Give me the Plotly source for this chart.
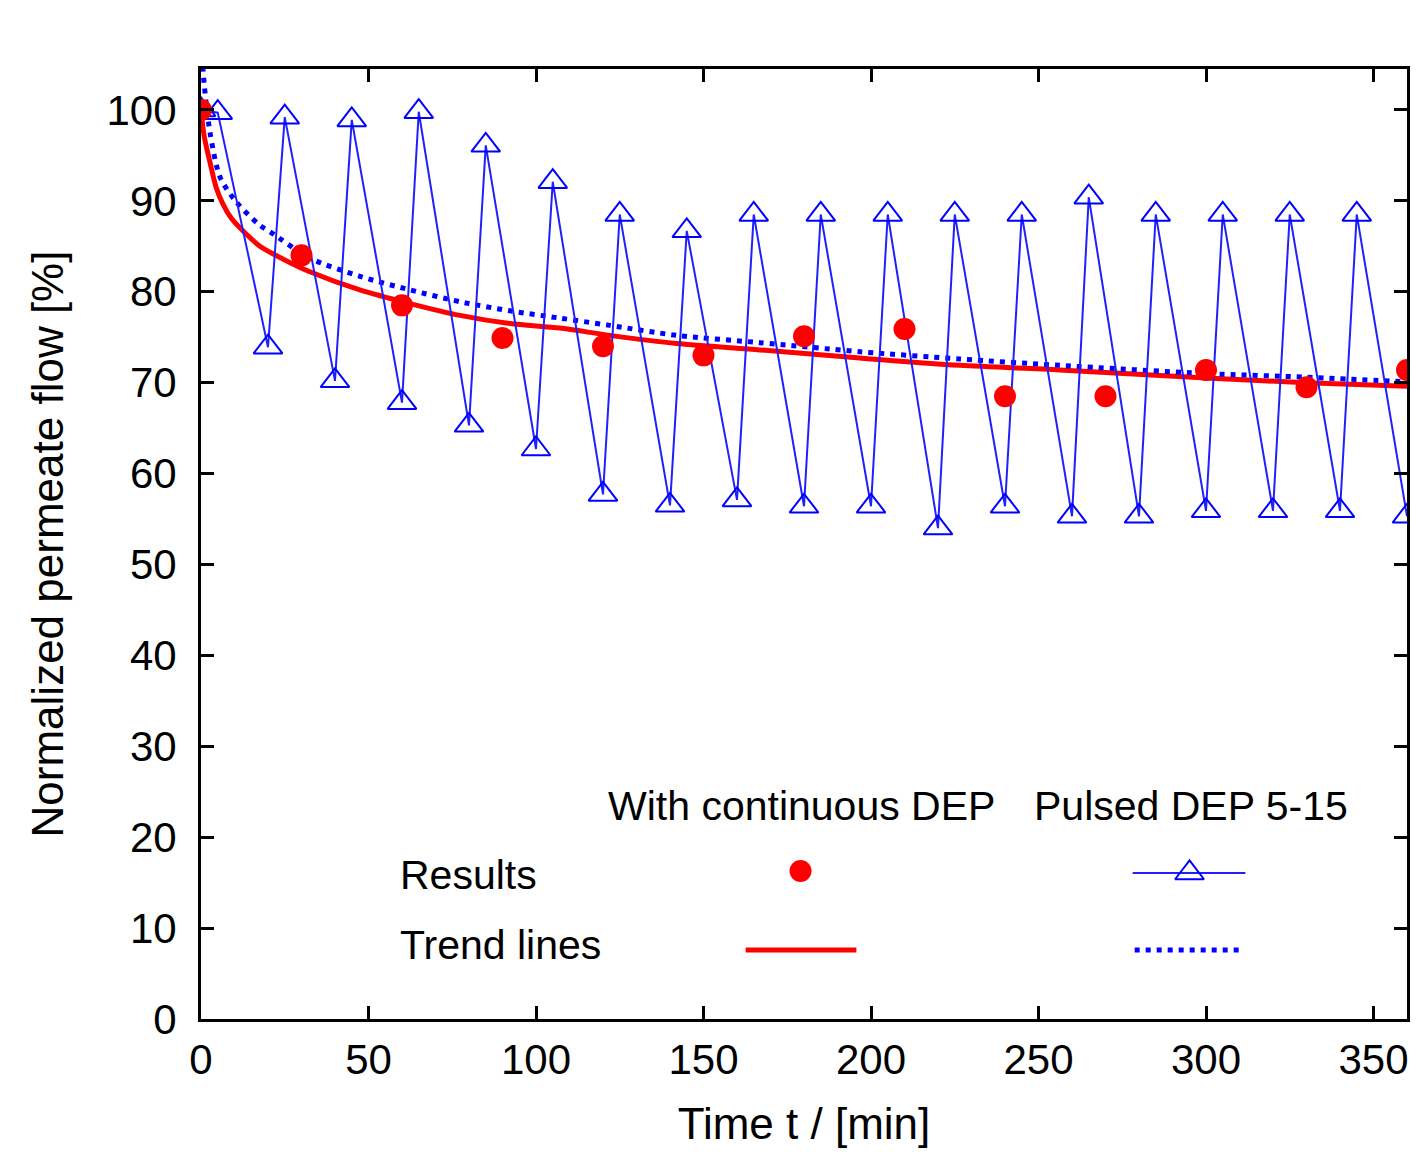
import plotly.graph_objects as go

# ---------------- data ----------------
results_t = [0, 30, 60, 90, 120, 150, 180, 210, 240, 270, 300, 330, 360]
results_flow = [100, 84.0, 78.5, 74.9, 74.0, 73.0, 75.1, 75.9, 68.5, 68.5, 71.4, 69.5, 71.4]

pulsed_t = [0, 5, 20, 25, 40, 45, 60, 65, 80, 85, 100, 105, 120, 125, 140, 145,
            160, 165, 180, 185, 200, 205, 220, 225, 240, 245, 260, 265, 280, 285,
            300, 305, 320, 325, 340, 345, 360]
pulsed_flow = [100, 99.7, 73.9, 99.2, 70.2, 98.9, 67.8, 99.8, 65.3, 96.1, 62.7, 92.1,
               57.7, 88.5, 56.5, 86.7, 57.1, 88.5, 56.4, 88.5, 56.4, 88.5, 54.0, 88.5,
               56.4, 88.5, 55.3, 90.4, 55.3, 88.5, 55.9, 88.5, 55.9, 88.5, 55.9, 88.5, 55.3]

trend_cont_t = [0, 1, 2.7, 4.5, 6.6, 9.0, 12.5, 17.6, 25, 32.5, 47.4, 62.4, 77.3, 92.2, 107.1,
                122, 142, 166.8, 196.7, 226.5, 256.3, 300, 330, 360]
trend_cont_flow = [100, 97.0, 94.2, 91.5, 89.6, 88.1, 86.7, 85.0, 83.5, 82.2, 80.2, 78.7, 77.4,
                   76.5, 76.0, 75.2, 74.3, 73.6, 72.7, 71.9, 71.4, 70.5, 70.0, 69.6]

trend_pulsed_t = [0, 0.6, 2.7, 5.7, 10.7, 17.6, 20.6, 32.5, 47.4, 62.4, 77.3, 92.2, 107.1,
                  122, 142, 166.8, 196.7, 226.5, 256.3, 300, 330, 360]
trend_pulsed_flow = [112, 104.4, 97.5, 92.6, 89.8, 87.3, 86.6, 83.7, 81.7, 80.2, 78.9, 77.9,
                     77.1, 76.3, 75.2, 74.4, 73.4, 72.6, 71.9, 71.0, 70.6, 70.1]

x_ticks = [0, 50, 100, 150, 200, 250, 300, 350]
y_ticks = [0, 10, 20, 30, 40, 50, 60, 70, 80, 90, 100]

legend_col_titles = ["With continuous DEP", "Pulsed DEP 5-15"]
legend_row_titles = ["Results", "Trend lines"]

# ---------------- styling ----------------
W, H = 1418, 1152
L, R, T, B = 201, 1410, 69, 1019  # plot area in pixels
FONT = "Liberation Sans, Arial, Helvetica, sans-serif"
FS_TICK = 42
FS_TITLE = 44
FS_LEG = 41
RED = "#ff0000"
BLUE = "#0000ff"
ZIG = "#2020ff"
DOT = "5px,6px"


def px(xp):
    return (xp - L) / (R - L)


def py(yp):
    return (B - yp) / (B - T)


fig = go.Figure()

fig.add_trace(go.Scatter(x=trend_cont_t, y=trend_cont_flow, mode="lines",
                         line=dict(color=RED, width=5, shape="spline", smoothing=0.8),
                         showlegend=False))
fig.add_trace(go.Scatter(x=trend_pulsed_t, y=trend_pulsed_flow, mode="lines",
                         line=dict(color=BLUE, width=5, dash=DOT, shape="spline", smoothing=0.8),
                         showlegend=False))
fig.add_trace(go.Scatter(x=pulsed_t, y=pulsed_flow, mode="lines+markers",
                         line=dict(color=ZIG, width=2),
                         marker=dict(symbol="triangle-up-open", size=25,
                                     color=BLUE, line=dict(width=2, color=BLUE)),
                         showlegend=False))
fig.add_trace(go.Scatter(x=results_t, y=results_flow, mode="markers",
                         marker=dict(symbol="circle", size=22, color=RED),
                         showlegend=False))

# legend sample markers drawn on a hidden overlay axis in paper-like units
fig.add_trace(go.Scatter(x=[px(802)], y=[py(871)], mode="markers", xaxis="x2", yaxis="y2",
                         marker=dict(symbol="circle", size=22, color=RED),
                         showlegend=False, hoverinfo="skip"))
fig.add_trace(go.Scatter(x=[px(1135), px(1248)], y=[py(873), py(873)], mode="lines",
                         xaxis="x2", yaxis="y2", line=dict(color=ZIG, width=2),
                         showlegend=False, hoverinfo="skip"))
fig.add_trace(go.Scatter(x=[px(1192)], y=[py(873)], mode="markers", xaxis="x2", yaxis="y2",
                         marker=dict(symbol="triangle-up-open", size=25, color=BLUE,
                                     line=dict(width=2, color=BLUE)),
                         showlegend=False, hoverinfo="skip"))
fig.add_trace(go.Scatter(x=[px(747), px(858)], y=[py(950), py(950)], mode="lines",
                         xaxis="x2", yaxis="y2", line=dict(color=RED, width=5),
                         showlegend=False, hoverinfo="skip"))
fig.add_trace(go.Scatter(x=[px(1137), px(1243)], y=[py(950), py(950)], mode="lines",
                         xaxis="x2", yaxis="y2", line=dict(color=BLUE, width=5, dash=DOT),
                         showlegend=False, hoverinfo="skip"))

annotations = [
    dict(text=legend_col_titles[0], x=px(803), y=py(806), xanchor="center", yanchor="middle"),
    dict(text=legend_col_titles[1], x=px(1193), y=py(806), xanchor="center", yanchor="middle"),
    dict(text=legend_row_titles[0], x=px(398), y=py(875), xanchor="left", yanchor="middle"),
    dict(text=legend_row_titles[1], x=px(398), y=py(945), xanchor="left", yanchor="middle"),
]
for a in annotations:
    a.update(xref="paper", yref="paper", showarrow=False,
             font=dict(family=FONT, size=FS_LEG, color="black"))

axis_common = dict(showline=True, linecolor="black", linewidth=3, mirror="ticks",
                   ticks="inside", ticklen=13, tickwidth=2.5, tickcolor="black",
                   showgrid=False, zeroline=False,
                   tickfont=dict(family=FONT, size=FS_TICK, color="black"))

fig.update_layout(
    width=W, height=H,
    margin=dict(l=L, r=W - R, t=T, b=H - B),
    paper_bgcolor="white", plot_bgcolor="white",
    font=dict(family=FONT, size=FS_TICK, color="black"),
    xaxis=dict(range=[0, 360], tickvals=x_ticks, ticklabelstandoff=2,
               title=dict(text="Time t / [min]", font=dict(family=FONT, size=FS_TITLE), standoff=26),
               **axis_common),
    yaxis=dict(range=[0, 104.5], tickvals=y_ticks, ticklabelstandoff=13,
               title=dict(text="Normalized permeate flow [%]", font=dict(family=FONT, size=FS_TITLE),
                          standoff=30),
               **axis_common),
    xaxis2=dict(overlaying="x", range=[0, 1], visible=False),
    yaxis2=dict(overlaying="y", range=[0, 1], visible=False),
    annotations=annotations,
)

fig.write_html(
    "out.html",
    config={"displayModeBar": False},
    post_script="document.body.style.margin='0';document.body.style.overflow='hidden';",
)
